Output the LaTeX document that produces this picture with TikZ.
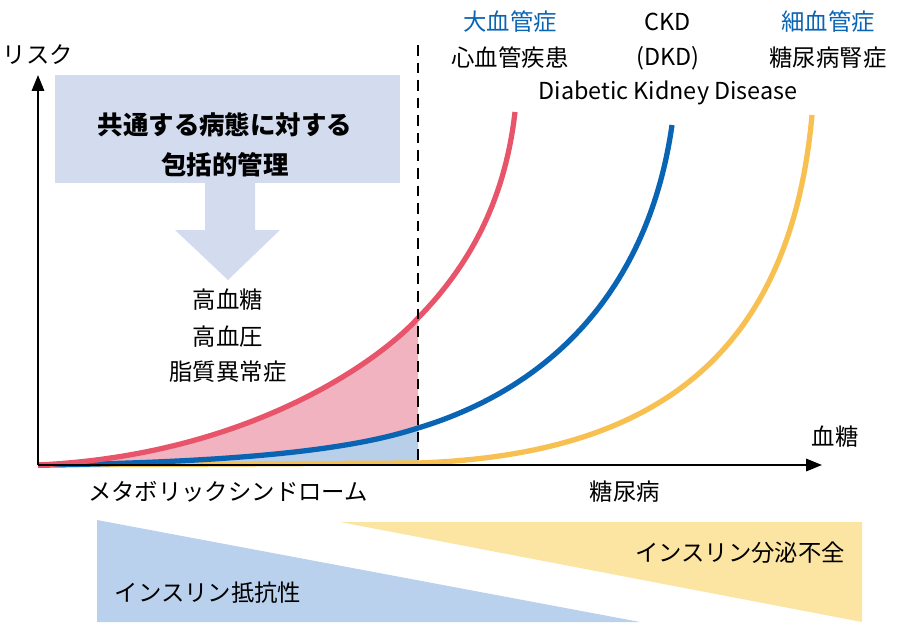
\documentclass[tikz,border=0pt]{standalone}
\usepackage{fontspec}
\setmainfont{Noto Sans CJK JP}
\usepackage{tikz}
\usetikzlibrary{positioning, arrows.meta, calc}
\definecolor{redc}{HTML}{E8546A}
\definecolor{bluec}{HTML}{0A64B4}
\definecolor{yelc}{HTML}{F7C050}
\definecolor{pinkf}{HTML}{F2B3C0}
\definecolor{lbluef}{HTML}{B8CFEA}
\definecolor{boxc}{HTML}{D3DCEF}
\definecolor{triblue}{HTML}{BAD1EE}
\definecolor{triyel}{HTML}{FCE4A2}
\tikzset{
    lbl/.style={font=\fontsize{13.3pt}{15pt}\selectfont, inner sep=1pt},
    bluelbl/.style={lbl, text=bluec},
    curve/.style={line width=3pt}
}
\begin{document}
\begin{tikzpicture}[x=0.02cm, y=-0.02cm]
    \useasboundingbox (0,0) rectangle (900,640);

    % bottom triangles
    \fill[triblue] (97,520) -- (97,622) -- (640,622) -- cycle;
    \fill[triyel] (340,522) -- (862,522) -- (862,622) -- cycle;
    \node[lbl] (resist) at (208,593) {インスリン抵抗性};
    \node[lbl] (secret) at (740,553) {インスリン分泌不全};

    % fills under curves
    \fill[lbluef] (38,465) .. controls (300,462) and (380,440) .. (418,428) -- (418,465) -- cycle;
    \fill[pinkf] (38,465) .. controls (250,455) and (380,360) .. (418,318)
        -- (418,428) .. controls (380,440) and (300,462) .. (38,465) -- cycle;

    % curves
    \draw[curve, yelc] (38,465) -- (418,463) .. controls (650,455) and (790,360) .. (812,115);
    \draw[curve, bluec] (38,465) .. controls (300,462) and (380,440) .. (418,428)
        .. controls (560,385) and (650,280) .. (672,125);
    \draw[curve, redc] (38,465) .. controls (250,455) and (380,360) .. (418,318)
        .. controls (470,265) and (505,200) .. (515,112);

    % axes
    \coordinate (o) at (38,465);
    \coordinate (ytop) at (38,75);
    \coordinate (xend) at (822,465);
    \draw[line width=1.2pt, -{Triangle[length=9pt,width=7pt]}] (o) -- (ytop);
    \draw[line width=1.2pt, -{Triangle[length=9pt,width=7pt]}] (o) -- (xend);
    \node[lbl] (risk) at (38,55) {リスク};
    \node[lbl] (glu) at (835,437) {血糖};

    % dashed divider
    \coordinate (dtop) at (418,45);
    \coordinate (dbot) at (418,465);
    \draw[line width=1.5pt, dash pattern=on 6pt off 4pt] (dtop) -- (dbot);

    % management box and arrow
    \fill[boxc] (55,75) rectangle (400,183);
    \node[lbl, font=\fontsize{14.5pt}{17pt}\selectfont\bfseries] (box1) at (225,125) {共通する病態に対する};
    \node[lbl, font=\fontsize{14.5pt}{17pt}\selectfont\bfseries] (box2) at (225,165) {包括的管理};
    \fill[boxc] (205,183) -- (255,183) -- (255,230) -- (280,230) -- (228,280)
        -- (175,230) -- (205,230) -- cycle;

    % conditions
    \node[lbl] (c1) at (228,300) {高血糖};
    \node[lbl] (c2) at (228,337) {高血圧};
    \node[lbl] (c3) at (228,372) {脂質異常症};

    % curve labels
    \node[bluelbl] (macro) at (510,22) {大血管症};
    \node[lbl] (cvd) at (510,58) {心血管疾患};
    \node[lbl] (ckd) at (668,22) {CKD};
    \node[lbl] (dkd) at (668,58) {(DKD)};
    \node[bluelbl] (micro) at (828,22) {細血管症};
    \node[lbl] (dn) at (828,58) {糖尿病腎症};
    \node[lbl] (dkdfull) at (668,93) {Diabetic Kidney Disease};

    % stage labels
    \node[lbl] (mets) at (228,492) {メタボリックシンドローム};
    \node[lbl] (dm) at (625,492) {糖尿病};
\end{tikzpicture}
\end{document}
